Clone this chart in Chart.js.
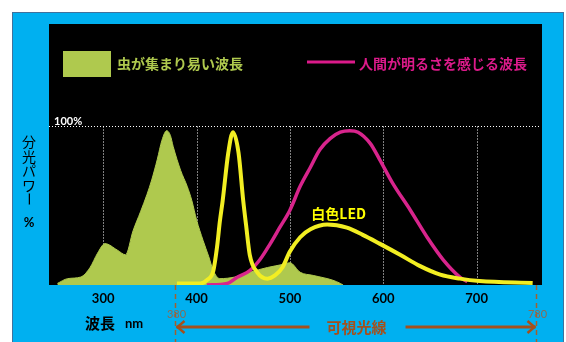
<!DOCTYPE html>
<html>
<head>
<meta charset="utf-8">
<script src="https://cdn.jsdelivr.net/npm/chart.js@4"></script>
<style>
  html, body { margin: 0; padding: 0; background: #fff; overflow: hidden; }
  #frame { position: absolute; left: 12px; top: 12px; width: 552px; height: 340px; box-sizing: border-box; background: #00b0f0; border: 1.5px solid #41719c; }
  #spectrum { position: absolute; left: 0; top: 0; }
</style>
</head>
<body>
<div id="frame"></div>
<canvas id="spectrum" width="566" height="342"></canvas>
<script>
// wavelength (nm) and relative spectral power (%)
const insectNm  = [251, 262, 276, 286, 294, 302, 315, 324, 332, 340, 347, 352, 358, 363, 368, 372, 375, 383, 390, 395, 400, 407, 413, 418, 425, 441, 457, 476, 493, 500, 511, 525, 546, 554, 557];
const insectPct = [1, 4, 5, 11, 20, 26, 22, 19, 34, 46, 57, 66, 79, 91, 97, 94, 87, 72, 62, 53, 41, 28, 18, 9, 4, 5, 8, 11, 13, 14, 8, 6, 3, 1, 0];

const humanNm  = [411, 433, 444, 457, 468, 479, 489, 500, 511, 522, 532, 543, 554, 564, 573, 586, 596, 610, 629, 647, 664, 682, 690];
const humanPct = [0, 1, 5, 9, 16, 26, 36, 47, 62, 74, 85, 92, 96, 97, 96, 89, 79, 64, 47, 30, 16, 5, 2];

const ledNm  = [379, 404, 411, 418, 422, 425, 428, 434, 439, 445, 450, 453, 457, 465, 476, 484, 492, 500, 511, 522, 540, 561, 578, 596, 618, 639, 661, 682, 703, 760];
const ledPct = [1, 1, 3, 9, 24, 40, 53, 83, 96, 83, 53, 38, 19, 8, 4, 6, 11, 21, 30, 35, 38, 36, 31.5, 26, 19, 12, 6.5, 4, 2.5, 1.3];

const tickNm = [300, 400, 500, 600, 700];
const visibleNm = [380, 780];

const insectLabel = '虫が集まり易い波長';
const humanLabel = '人間が明るさを感じる波長';
const ledLabel = '白色LED';

const jp = '"Noto Sans CJK JP", sans-serif';

function pairs(xs, ys) {
  return xs.map((v, i) => ({ x: v, y: ys[i] }));
}

function seg(ctx, x1, y1, x2, y2) {
  ctx.beginPath();
  ctx.moveTo(x1, y1);
  ctx.lineTo(x2, y2);
  ctx.stroke();
}

const decorations = {
  id: 'decorations',
  beforeDatasetsDraw(chart) {
    const { ctx, chartArea: a, scales: { x, y } } = chart;
    ctx.save();
    ctx.fillStyle = '#000';
    ctx.fillRect(a.left, a.top, a.right - a.left, a.bottom - a.top);

    // dotted grid, only below the 100% line
    const top = Math.round(y.getPixelForValue(100)) + 0.5;
    ctx.strokeStyle = '#fff';
    ctx.lineWidth = 1;
    ctx.setLineDash([1, 2]);
    tickNm.forEach(v => {
      const px = Math.round(x.getPixelForValue(v)) + 0.5;
      seg(ctx, px, top, px, a.bottom);
    });
    seg(ctx, a.left, top, a.right - 2, top);
    ctx.setLineDash([]);

    ctx.fillStyle = '#fff';
    ctx.font = 'bold 11px Lato, sans-serif';
    ctx.textBaseline = 'middle';
    ctx.fillText('100%', a.left + 5, top - 5);
    ctx.restore();
  },
  afterDraw(chart) {
    const { ctx, chartArea: a, scales: { x, y } } = chart;
    ctx.save();

    // legend
    ctx.fillStyle = '#afc94e';
    ctx.fillRect(63, 51, 48, 26);
    ctx.font = 'bold 14px ' + jp;
    ctx.textBaseline = 'middle';
    ctx.fillText(insectLabel, 117, 64);
    ctx.strokeStyle = '#dc1a8a';
    ctx.lineWidth = 3;
    seg(ctx, 307, 62, 355, 62);
    ctx.fillStyle = '#dc1a8a';
    ctx.fillText(humanLabel, 359, 64);

    // LED label
    ctx.fillStyle = '#ffff00';
    ctx.fillText(ledLabel, x.getPixelForValue(523), y.getPixelForValue(45));

    // vertical y title
    ctx.fillStyle = '#000';
    ctx.font = '14px ' + jp;
    ctx.textAlign = 'center';
    const chars = ['分', '光', 'パ', 'ワ'];
    chars.forEach((c, i) => ctx.fillText(c, 29, 142 + i * 14.5));
    ctx.save();
    ctx.translate(29, 199);
    ctx.rotate(Math.PI / 2);
    ctx.fillText('ー', 0, 0);
    ctx.restore();
    ctx.font = 'bold 13px Lato, sans-serif';
    ctx.fillText('%', 29, 223);

    // x title
    ctx.textAlign = 'left';
    ctx.font = 'bold 15px ' + jp;
    ctx.fillText('波長', 85, 323);
    ctx.font = 'bold 13px Lato, sans-serif';
    ctx.fillText('nm', 125, 324);

    // visible light range
    const x1 = Math.round(x.getPixelForValue(visibleNm[0])) - 2.5;
    const x2 = Math.min(Math.round(x.getPixelForValue(visibleNm[1])), a.right - 6) + 0.5;
    ctx.strokeStyle = '#a2602e';
    ctx.lineWidth = 1.5;
    ctx.setLineDash([5, 4]);
    seg(ctx, x1, a.bottom, x1, 342);
    seg(ctx, x2, a.bottom, x2, 342);
    ctx.setLineDash([]);

    ctx.fillStyle = '#8b6a52';
    ctx.font = '11px Lato, sans-serif';
    ctx.textAlign = 'center';
    ctx.fillText(String(visibleNm[0]), x1 + 1, 314);
    ctx.fillText(String(visibleNm[1]), x2 + 1, 314);

    const ay = 327;
    const mid = (x1 + x2) / 2 + 0.5;
    ctx.strokeStyle = '#a4501c';
    ctx.lineWidth = 3;
    seg(ctx, x1 + 1, ay, mid - 47, ay);
    seg(ctx, mid + 49, ay, x2 - 1, ay);
    ctx.lineWidth = 2.5;
    ctx.beginPath();
    ctx.moveTo(x1 + 9, ay - 6); ctx.lineTo(x1 + 2, ay); ctx.lineTo(x1 + 9, ay + 6);
    ctx.moveTo(x2 - 9, ay - 6); ctx.lineTo(x2 - 2, ay); ctx.lineTo(x2 - 9, ay + 6);
    ctx.stroke();
    ctx.fillStyle = '#a4501c';
    ctx.font = 'bold 15px ' + jp;
    ctx.fillText('可視光線', mid, ay);
    ctx.restore();
  }
};

new Chart(document.getElementById('spectrum'), {
  type: 'line',
  data: {
    datasets: [
      {
        label: 'LED',
        data: pairs(ledNm, ledPct),
        borderColor: '#f2ee22',
        borderWidth: 4,
        cubicInterpolationMode: 'monotone',
        pointRadius: 0,
        fill: false
      },
      {
        label: humanLabel,
        data: pairs(humanNm, humanPct),
        borderColor: '#d8248c',
        borderWidth: 3.5,
        cubicInterpolationMode: 'monotone',
        pointRadius: 0,
        fill: false
      },
      {
        label: insectLabel,
        data: pairs(insectNm, insectPct),
        borderColor: '#afc94e',
        backgroundColor: '#afc94e',
        borderWidth: 1,
        cubicInterpolationMode: 'monotone',
        pointRadius: 0,
        fill: 'origin'
      }
    ]
  },
  options: {
    responsive: false,
    animation: false,
    layout: { padding: { left: 49, right: 24, top: 24, bottom: 37 } },
    plugins: { legend: { display: false }, tooltip: { enabled: false } },
    scales: {
      x: {
        type: 'linear',
        min: 242,
        max: 770,
        afterBuildTicks: s => { s.ticks = tickNm.map(v => ({ value: v })); },
        afterFit: s => { s.height = 20; },
        grid: { display: false, drawTicks: false },
        border: { display: false },
        ticks: {
          color: '#000',
          padding: 6,
          maxRotation: 0,
          font: { family: 'Lato, sans-serif', weight: 'bold', size: 13 }
        }
      },
      y: {
        display: false,
        min: 0,
        max: 164
      }
    }
  },
  plugins: [decorations]
});
</script>
</body>
</html>
